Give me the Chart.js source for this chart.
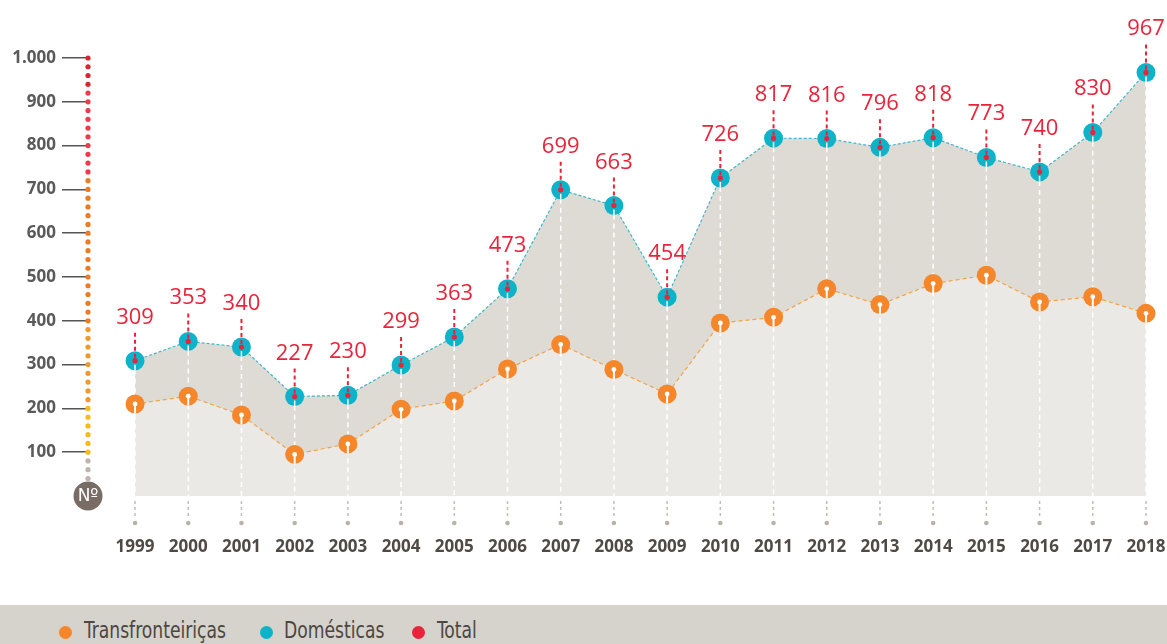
<!DOCTYPE html>
<html lang="pt">
<head>
<meta charset="utf-8">
<title>Transfronteiriças e Domésticas 1999–2018</title>
<script src="https://cdn.jsdelivr.net/npm/chart.js@4.4.1/dist/chart.umd.min.js"></script>
<style>
  html, body { margin: 0; padding: 0; background: #fff; }
  body { width: 1167px; height: 644px; overflow: hidden; position: relative; }
  .chart-wrap { position: absolute; left: 0; top: 0; width: 1167px; height: 605px; }
  .legend {
    position: absolute; left: 0; top: 605px; width: 1167px; height: 39px;
    background: #d6d2cc; overflow: hidden;
    font-family: 'Liberation Sans Narrow', 'DejaVu Sans Condensed', sans-serif;
    font-size: 23px; line-height: 23px; color: #4b4742;
  }
  .legend-dot { position: absolute; width: 13px; height: 13px; border-radius: 50%; top: 21px; }
  .legend-label {
    position: absolute; top: 14px; white-space: nowrap;
    transform: scaleX(0.83); transform-origin: left center;
  }
</style>
</head>
<body>
<div class="chart-wrap"><canvas id="chart"></canvas></div>
<div class="legend" id="legend"></div>

<script>
// ── DATA ──
const years = [1999, 2000, 2001, 2002, 2003, 2004, 2005, 2006, 2007, 2008,
               2009, 2010, 2011, 2012, 2013, 2014, 2015, 2016, 2017, 2018];
const transfronteiricas = [210, 228, 185, 95, 119, 198, 217, 290, 346, 289,
                           233, 395, 408, 473, 437, 485, 504, 443, 455, 417];
const domesticas = [99, 125, 155, 132, 111, 101, 146, 183, 353, 374,
                    221, 331, 409, 343, 359, 333, 269, 297, 375, 550];
const totais = [309, 353, 340, 227, 230, 299, 363, 473, 699, 663,
                454, 726, 817, 816, 796, 818, 773, 740, 830, 967];
const yTicks = [100, 200, 300, 400, 500, 600, 700, 800, 900, 1000];

const ORANGE = '#f5862a';
const BLUE = '#0db3c9';
const RED = '#e8243b';
const FILL_DARK = '#dedbd5';
const FILL_LIGHT = '#ebe9e6';

const legendItems = [
  { label: 'Transfronteiriças', color: ORANGE, dotX: 59, textX: 84 },
  { label: 'Domésticas',        color: BLUE,   dotX: 260, textX: 284 },
  { label: 'Total',             color: RED,    dotX: 412, textX: 437 },
];

// 1.000 style thousands separator
const fmt = v => String(v).replace(/\B(?=(\d{3})+(?!\d))/g, '.');

// colour of the dotted column next to the y axis
function columnColor(v) {
  if (v >= 940) return '#d9262e';
  if (v >= 740) return '#ee3b4b';
  if (v >= 400) return '#ee7a23';
  if (v >= 220) return '#f5982b';
  if (v >= 100) return '#f7bc1b';
  return '#bdb5ad';
}

const pts = vals => vals.map((v, i) => ({ x: years[i], y: v }));

// ── DECORATIONS ──
const decorPlugin = {
  id: 'decor',
  beforeDatasetsDraw(chart) {
    // white dashed drop lines under the points
    const { ctx, chartArea } = chart;
    const top = chart.getDatasetMeta(1).data;
    ctx.save();
    ctx.strokeStyle = '#ffffff';
    ctx.lineWidth = 1.5;
    ctx.setLineDash([5, 4]);
    top.forEach(p => {
      ctx.beginPath();
      ctx.moveTo(p.x, p.y);
      ctx.lineTo(p.x, chartArea.bottom);
      ctx.stroke();
    });
    ctx.restore();
  },
  afterDatasetsDraw(chart) {
    const { ctx } = chart;
    const low = chart.getDatasetMeta(0).data;
    const top = chart.getDatasetMeta(1).data;
    ctx.save();

    // keyhole marks on the orange points
    low.forEach(p => {
      ctx.strokeStyle = '#fff';
      ctx.lineWidth = 2;
      ctx.beginPath();
      ctx.moveTo(p.x, p.y);
      ctx.lineTo(p.x, p.y + 9.5);
      ctx.stroke();
      ctx.fillStyle = '#fff';
      ctx.beginPath();
      ctx.arc(p.x, p.y, 2.4, 0, Math.PI * 2);
      ctx.fill();
    });

    // white stub under the red dot on the blue points
    top.forEach(p => {
      ctx.strokeStyle = '#fff';
      ctx.lineWidth = 1.5;
      ctx.beginPath();
      ctx.moveTo(p.x, p.y + 4);
      ctx.lineTo(p.x, p.y + 9.5);
      ctx.stroke();
    });

    // red dashed leader + total value
    ctx.strokeStyle = RED;
    ctx.lineWidth = 2;
    ctx.setLineDash([4, 3]);
    top.forEach(p => {
      ctx.beginPath();
      ctx.moveTo(p.x, p.y - 28);
      ctx.lineTo(p.x, p.y - 3);
      ctx.stroke();
    });
    ctx.setLineDash([]);
    ctx.fillStyle = RED;
    ctx.font = '22px "Open Sans", sans-serif';
    ctx.textAlign = 'center';
    ctx.textBaseline = 'alphabetic';
    top.forEach((p, i) => {
      ctx.fillText(fmt(totais[i]), p.x, p.y - 37);
    });
    ctx.restore();
  },
  afterDraw(chart) {
    const { ctx, chartArea, scales } = chart;
    const x0 = chartArea.left;
    ctx.save();

    // dotted column
    for (let v = 1000; v >= 40; v -= 20) {
      ctx.fillStyle = columnColor(v);
      ctx.beginPath();
      ctx.arc(x0, scales.y.getPixelForValue(v), 2.6, 0, Math.PI * 2);
      ctx.fill();
    }

    // Nº badge
    ctx.fillStyle = '#786c65';
    ctx.beginPath();
    ctx.arc(x0, chartArea.bottom, 14.5, 0, Math.PI * 2);
    ctx.fill();
    ctx.fillStyle = '#fff';
    ctx.font = '17px "DejaVu Sans", sans-serif';
    ctx.textAlign = 'center';
    ctx.textBaseline = 'middle';
    ctx.fillText('Nº', x0, chartArea.bottom + 1);

    // grey dashed year ticks with end dots
    years.forEach(yr => {
      const px = scales.x.getPixelForValue(yr);
      ctx.strokeStyle = '#c3bdb6';
      ctx.lineWidth = 1.5;
      ctx.setLineDash([3, 3]);
      ctx.beginPath();
      ctx.moveTo(px, chartArea.bottom + 5);
      ctx.lineTo(px, chartArea.bottom + 23);
      ctx.stroke();
      ctx.setLineDash([]);
      ctx.fillStyle = '#b9b2aa';
      ctx.beginPath();
      ctx.arc(px, chartArea.bottom + 27, 2.3, 0, Math.PI * 2);
      ctx.fill();
    });
    ctx.restore();
  }
};

// ── CHART ──
function initChart() {
  const ctx = document.getElementById('chart');

  new Chart(ctx, {
    type: 'line',
    data: {
      datasets: [
        {
          label: 'Transfronteiriças',
          data: pts(transfronteiricas),
          borderColor: '#f4a244',
          borderWidth: 1.2,
          borderDash: [4, 3],
          backgroundColor: FILL_LIGHT,
          fill: 'origin',
          pointRadius: 9.5,
          pointHoverRadius: 9.5,
          pointBorderWidth: 0,
          pointBackgroundColor: ORANGE,
          tension: 0,
          clip: false,
          order: 1
        },
        {
          label: 'Domésticas',
          data: pts(domesticas),
          borderColor: '#3cb8cb',
          borderWidth: 1.2,
          borderDash: [3, 2],
          backgroundColor: FILL_DARK,
          fill: 'origin',
          pointRadius: 9.5,
          pointHoverRadius: 9.5,
          pointBorderWidth: 0,
          pointBackgroundColor: BLUE,
          tension: 0,
          clip: false,
          order: 2
        },
        {
          label: 'Total',
          data: pts(totais),
          stack: 'total',
          showLine: false,
          fill: false,
          pointRadius: 2.6,
          pointHoverRadius: 2.6,
          pointBorderWidth: 0,
          pointBackgroundColor: RED,
          clip: false,
          order: 0
        }
      ]
    },
    options: {
      responsive: true,
      maintainAspectRatio: false,
      animation: false,
      events: [],
      layout: { padding: { top: 58, right: 21, bottom: 0, left: 0 } },
      plugins: {
        legend: { display: false },
        tooltip: { enabled: false },
        filler: { drawTime: 'beforeDatasetsDraw' }
      },
      scales: {
        x: {
          type: 'linear',
          min: 1998.116,
          max: 2018,
          afterBuildTicks: axis => { axis.ticks = years.map(v => ({ value: v })); },
          // the big label gap below the axis shouldn't eat horizontal space
          afterFit: s => { s.height = 109; s.paddingLeft = 0; s.paddingRight = 0; },
          grid: { display: false, drawTicks: false },
          border: { display: false },
          ticks: {
            autoSkip: false,
            maxRotation: 0,
            padding: 41,
            color: '#4f4a45',
            font: { family: 'Open Sans', weight: 'bold', size: 17 },
            callback: v => String(v)
          }
        },
        y: {
          stacked: true,
          min: 0,
          max: 1000,
          afterBuildTicks: axis => { axis.ticks = yTicks.map(v => ({ value: v })); },
          afterFit: s => { s.width = 88; },
          grid: { drawOnChartArea: false, tickLength: 26, color: '#555', lineWidth: 1.5 },
          border: { display: false },
          ticks: {
            padding: 6,
            color: '#5a5a5a',
            font: { family: 'Open Sans', weight: 'bold', size: 17 },
            callback: v => fmt(v)
          }
        }
      }
    },
    plugins: [decorPlugin]
  });
}

// ── LEGEND ──
function renderLegend() {
  const el = document.getElementById('legend');
  el.innerHTML = legendItems.map(it => `
    <div class="legend-dot" style="left:${it.dotX}px;background:${it.color}"></div>
    <div class="legend-label" style="left:${it.textX}px">${it.label}</div>
  `).join('');
}

renderLegend();
initChart();
</script>
</body>
</html>
